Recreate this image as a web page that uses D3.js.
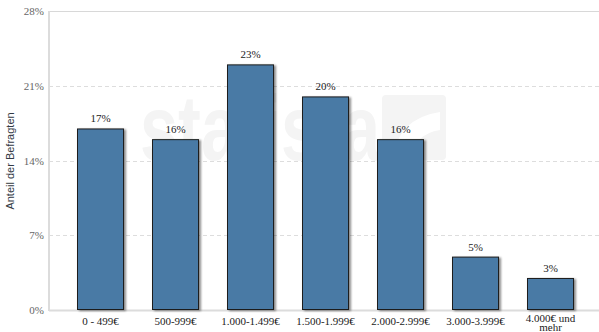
<!DOCTYPE html>
<html>
<head>
<meta charset="utf-8">
<script src="https://cdn.jsdelivr.net/npm/d3@7"></script>
<style>
  body { margin: 0; background: #fff; }
  svg { display: block; }
</style>
</head>
<body>
<svg id="chart"></svg>
<script>
const categories = ["0 - 499€", "500-999€", "1.000-1.499€", "1.500-1.999€", "2.000-2.999€", "3.000-3.999€", "4.000€ und mehr"];
const values = [17, 16, 23, 20, 16, 5, 3];
const yTicks = [0, 7, 14, 21, 28];

const width = 599;
const height = 332;
const margin = { top: 11, right: 0, bottom: 22, left: 49 };
const serif = "'Liberation Serif', 'Times New Roman', 'DejaVu Serif', serif";

const svg = d3.select("#chart").attr("width", width).attr("height", height);

const defs = svg.append("defs");
const shadow = defs.append("filter").attr("id", "shadow")
  .attr("x", "-20%").attr("y", "-20%").attr("width", "150%").attr("height", "150%");
shadow.append("feGaussianBlur").attr("in", "SourceAlpha").attr("stdDeviation", 1.2);
shadow.append("feOffset").attr("dx", 2).attr("dy", 1).attr("result", "off");
shadow.append("feComponentTransfer").append("feFuncA").attr("type", "linear").attr("slope", 0.45);
const merge = shadow.append("feMerge");
merge.append("feMergeNode");
merge.append("feMergeNode").attr("in", "SourceGraphic");

const x = d3.scaleBand()
  .domain(categories)
  .range([63, 588])
  .paddingInner(0.373)
  .paddingOuter(0.1865);

const y = d3.scaleLinear()
  .domain([0, 28])
  .range([height - margin.bottom, margin.top]);

// watermark (faint logo behind the bars)
const wm = svg.append("g").attr("fill", "#f4f4f4");
wm.append("text")
  .attr("x", 140)
  .attr("y", 160)
  .attr("textLength", 240)
  .attr("lengthAdjust", "spacingAndGlyphs")
  .style("font-family", "'Liberation Sans', Arial, sans-serif")
  .style("font-weight", "bold")
  .style("font-size", "92px")
  .text("statista");
wm.append("rect")
  .attr("x", 382).attr("y", 95)
  .attr("width", 64).attr("height", 65)
  .attr("rx", 4);
wm.append("path")
  .attr("d", "M392,160 Q398,118 440,112 L440,130 Q414,134 410,160 Z")
  .attr("fill", "#fff");

// grid
svg.append("g")
  .selectAll("line")
  .data(yTicks.filter(d => d > 0 && d < 28))
  .join("line")
  .attr("x1", margin.left)
  .attr("x2", width)
  .attr("y1", d => Math.round(y(d)) + 0.5)
  .attr("y2", d => Math.round(y(d)) + 0.5)
  .attr("stroke", "#dddddd")
  .attr("stroke-dasharray", "4,3");

// top frame line
svg.append("line")
  .attr("x1", margin.left).attr("x2", width)
  .attr("y1", y(28) + 0.5).attr("y2", y(28) + 0.5)
  .attr("stroke", "#d8d8d8");

// left axis line
svg.append("line")
  .attr("x1", margin.left).attr("x2", margin.left)
  .attr("y1", y(28)).attr("y2", y(0) + 1)
  .attr("stroke", "#dcdcdc")
  .attr("stroke-width", 2);

// bottom axis line
svg.append("line")
  .attr("x1", margin.left).attr("x2", width)
  .attr("y1", y(0) + 0.5).attr("y2", y(0) + 0.5)
  .attr("stroke", "#dcdcdc")
  .attr("stroke-width", 2);

// y axis labels
const yAxis = d3.axisLeft(y).tickValues(yTicks).tickFormat(d => d + "%").tickSize(0).tickPadding(5);
const gy = svg.append("g")
  .attr("transform", `translate(${margin.left},0)`)
  .call(yAxis);
gy.attr("font-family", null);
gy.select(".domain").remove();
gy.selectAll("text")
  .style("font-family", serif)
  .style("font-size", "11px")
  .attr("fill", "#666");

// y title
svg.append("text")
  .attr("transform", "rotate(-90)")
  .attr("x", -161)
  .attr("y", 14)
  .attr("text-anchor", "middle")
  .style("font-family", "'Liberation Sans', Arial, sans-serif")
  .style("font-size", "11px")
  .attr("fill", "#333a45")
  .text("Anteil der Befragten");

// bars
svg.append("g")
  .selectAll("rect")
  .data(values)
  .join("rect")
  .attr("x", (d, i) => x(categories[i]) + 0.5)
  .attr("y", d => y(d) + 0.5)
  .attr("width", x.bandwidth() - 1)
  .attr("height", d => y(0) - y(d) - 1)
  .attr("fill", "#4a7aa5")
  .attr("stroke", "#1c1c1c")
  .attr("stroke-width", 1)
  .attr("filter", "url(#shadow)");

// value labels
svg.append("g")
  .selectAll("text")
  .data(values)
  .join("text")
  .attr("x", (d, i) => x(categories[i]) + x.bandwidth() / 2)
  .attr("y", d => y(d) - 6)
  .attr("text-anchor", "middle")
  .style("font-family", serif)
  .style("font-size", "11px")
  .attr("fill", "#222")
  .text(d => d + "%");

// x labels
const xl = svg.append("g")
  .selectAll("text")
  .data(categories)
  .join("text")
  .attr("x", d => x(d) + x.bandwidth() / 2)
  .attr("y", 325)
  .attr("text-anchor", "middle")
  .style("font-family", serif)
  .style("font-size", "11px")
  .attr("fill", "#222");
xl.each(function (d) {
  const t = d3.select(this);
  if (d === "4.000€ und mehr") {
    t.append("tspan").attr("x", x(d) + x.bandwidth() / 2).attr("y", 322).text("4.000€ und");
    t.append("tspan").attr("x", x(d) + x.bandwidth() / 2).attr("y", 331).text("mehr");
  } else {
    t.text(d);
  }
});
</script>
</body>
</html>
